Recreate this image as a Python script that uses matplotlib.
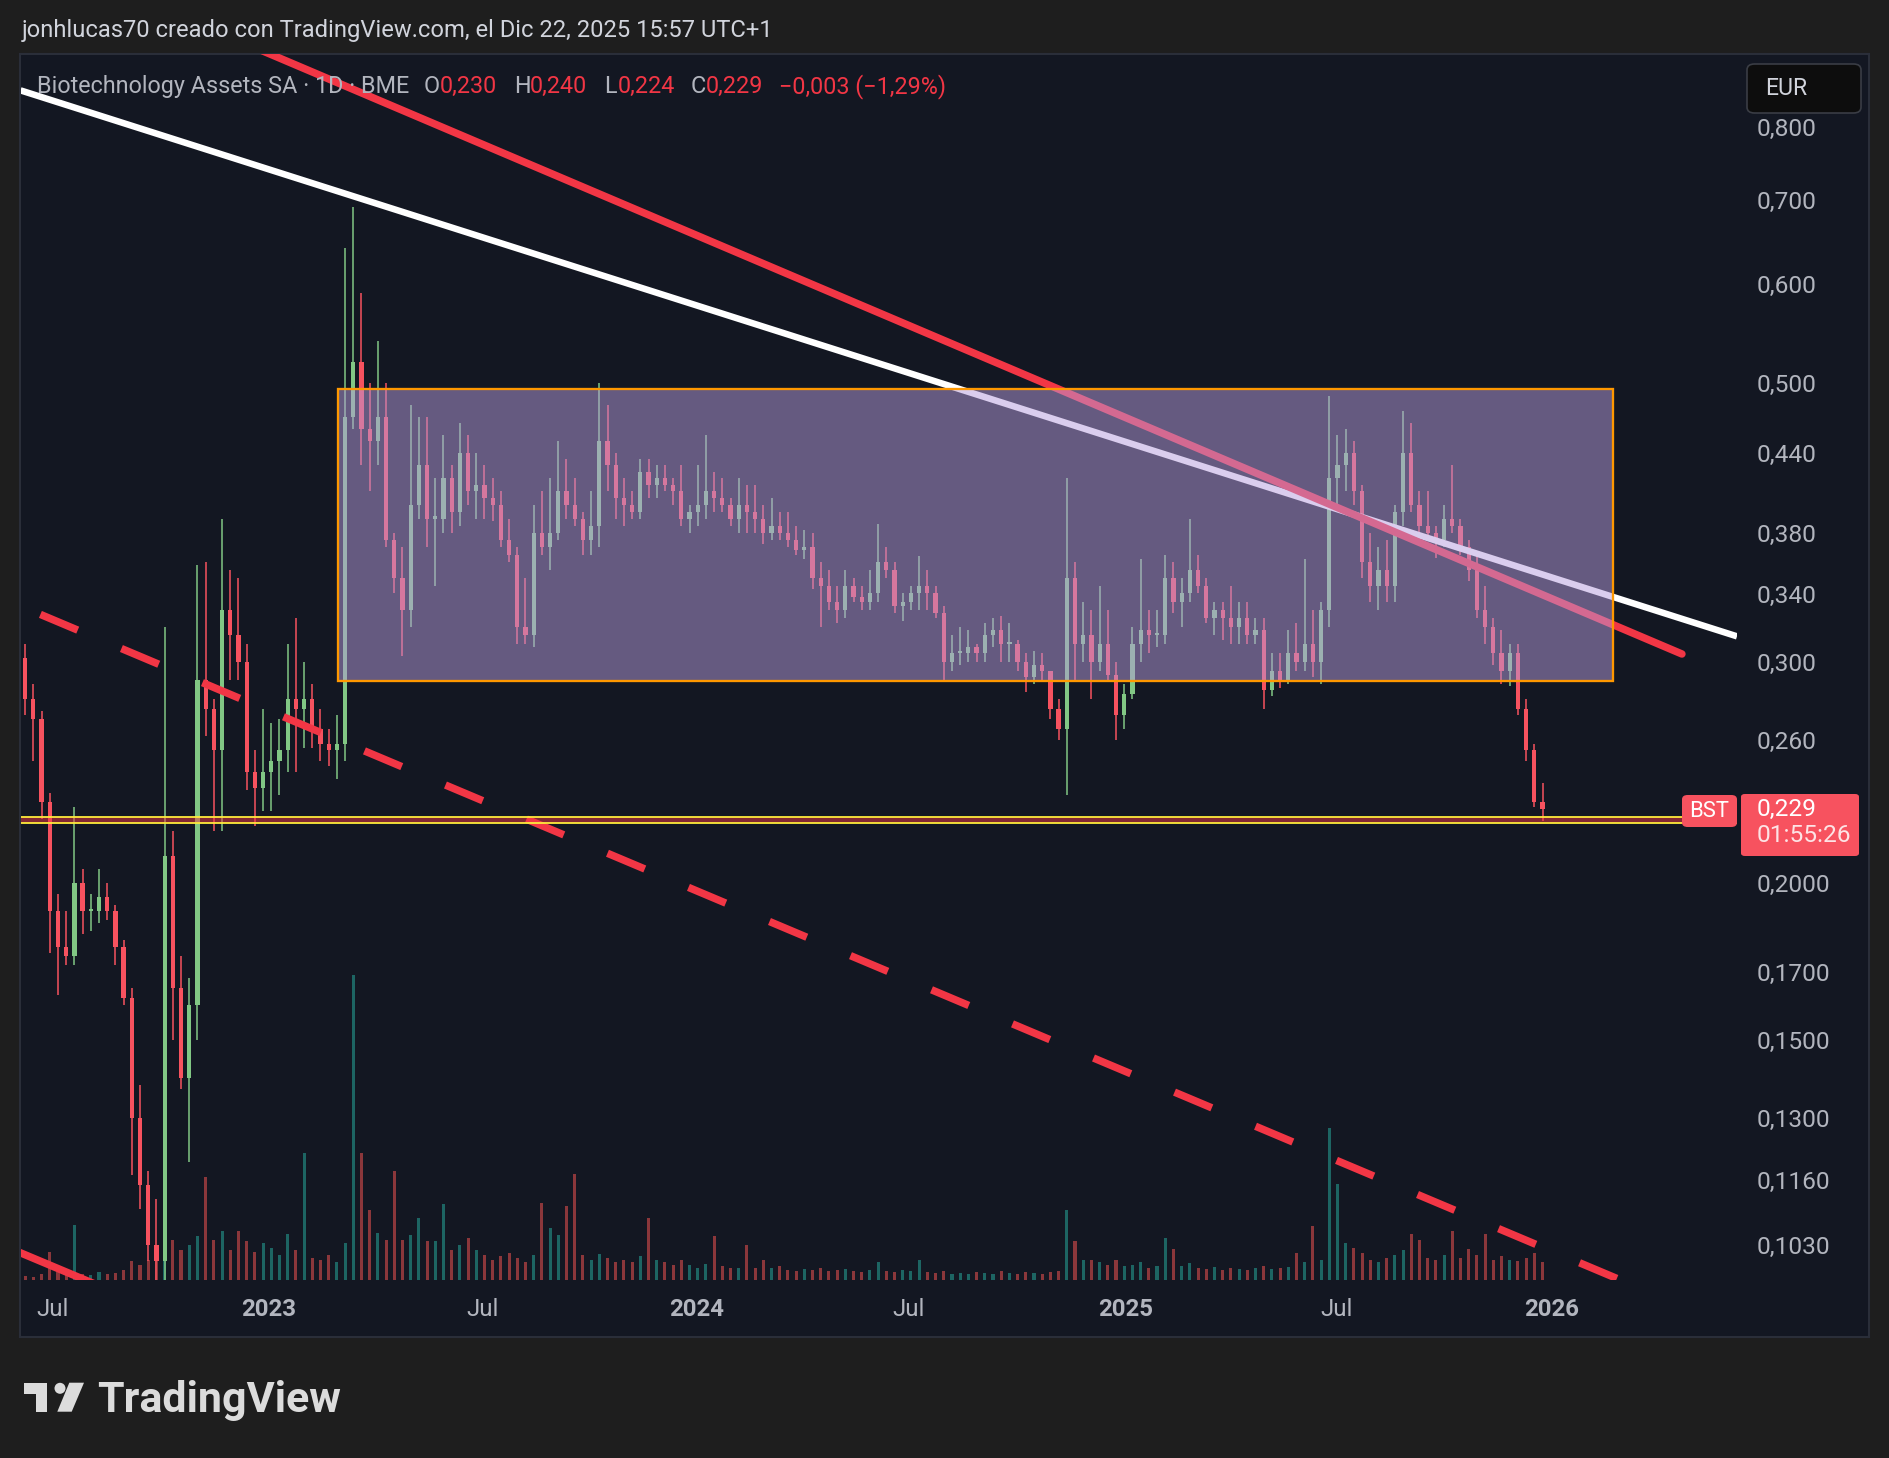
import matplotlib
matplotlib.use("Agg")
import matplotlib.pyplot as plt
import matplotlib.dates as mdates
from matplotlib.patches import Rectangle, FancyBboxPatch, Polygon, Ellipse
from matplotlib.ticker import FixedLocator, FixedFormatter, NullLocator
import numpy as np
import pandas as pd

plt.rcParams['font.family'] = ['Roboto', 'DejaVu Sans']

W, H = 1890, 1458

# ---------------- data (weekly candles) ----------------
first_week = '2022-06-06'
first_open = 0.302

close = [0.28, 0.27, 0.232, 0.19, 0.178, 0.175, 0.2, 0.19, 0.19, 0.195,
         0.19, 0.178, 0.162, 0.13, 0.115, 0.103, 0.1, 0.21, 0.165, 0.14,
         0.16, 0.29, 0.275, 0.255, 0.33, 0.315, 0.3, 0.245, 0.238, 0.245,
         0.25, 0.255, 0.28, 0.275, 0.28, 0.265, 0.258, 0.255, 0.258, 0.47,
         0.52, 0.46, 0.45, 0.47, 0.375, 0.35, 0.33, 0.4, 0.43, 0.39,
         0.39, 0.42, 0.395, 0.44, 0.41, 0.415, 0.405, 0.4, 0.375, 0.365,
         0.32, 0.315, 0.38, 0.37, 0.38, 0.41, 0.4, 0.39, 0.375, 0.385,
         0.45, 0.43, 0.405, 0.4, 0.395, 0.425, 0.415, 0.42, 0.415, 0.41,
         0.39, 0.395, 0.4, 0.41, 0.405, 0.4, 0.39, 0.4, 0.395, 0.39,
         0.38, 0.385, 0.38, 0.375, 0.368, 0.37, 0.35, 0.345, 0.335, 0.33,
         0.345, 0.338, 0.335, 0.34, 0.36, 0.355, 0.332, 0.335, 0.34, 0.345,
         0.34, 0.328, 0.3, 0.305, 0.305, 0.308, 0.305, 0.315, 0.318, 0.31,
         0.31, 0.3, 0.292, 0.298, 0.295, 0.275, 0.265, 0.35, 0.31, 0.315,
         0.3, 0.31, 0.293, 0.272, 0.283, 0.31, 0.318, 0.315, 0.315, 0.35,
         0.335, 0.34, 0.355, 0.345, 0.325, 0.33, 0.325, 0.32, 0.325, 0.315,
         0.318, 0.285, 0.295, 0.29, 0.305, 0.3, 0.31, 0.3, 0.33, 0.42,
         0.43, 0.44, 0.41, 0.36, 0.345, 0.355, 0.345, 0.395, 0.44, 0.4,
         0.385, 0.38, 0.375, 0.39, 0.385, 0.37, 0.355, 0.33, 0.32, 0.305,
         0.295, 0.305, 0.275, 0.255, 0.232, 0.229]

high = [0.31, 0.288, 0.274, 0.236, 0.196, 0.19, 0.23, 0.205, 0.196, 0.205,
        0.2, 0.192, 0.18, 0.165, 0.138, 0.118, 0.112, 0.32, 0.22, 0.175,
        0.168, 0.358, 0.36, 0.28, 0.39, 0.355, 0.35, 0.31, 0.255, 0.275,
        0.268, 0.27, 0.31, 0.325, 0.3, 0.288, 0.275, 0.265, 0.272, 0.64,
        0.69, 0.59, 0.5, 0.54, 0.5, 0.38, 0.37, 0.48, 0.47, 0.47,
        0.42, 0.455, 0.43, 0.465, 0.455, 0.44, 0.43, 0.42, 0.41, 0.39,
        0.37, 0.35, 0.4, 0.41, 0.42, 0.45, 0.435, 0.42, 0.395, 0.41,
        0.5, 0.48, 0.44, 0.42, 0.41, 0.435, 0.435, 0.43, 0.43, 0.42,
        0.43, 0.4, 0.43, 0.455, 0.425, 0.42, 0.405, 0.42, 0.415, 0.415,
        0.4, 0.405, 0.395, 0.395, 0.385, 0.382, 0.38, 0.36, 0.355, 0.345,
        0.355, 0.35, 0.345, 0.355, 0.386, 0.37, 0.36, 0.34, 0.345, 0.364,
        0.355, 0.345, 0.332, 0.315, 0.32, 0.318, 0.31, 0.322, 0.325, 0.326,
        0.322, 0.312, 0.305, 0.306, 0.305, 0.295, 0.28, 0.42, 0.36, 0.335,
        0.33, 0.345, 0.33, 0.3, 0.288, 0.32, 0.362, 0.33, 0.33, 0.365,
        0.36, 0.35, 0.39, 0.365, 0.35, 0.335, 0.335, 0.345, 0.335, 0.335,
        0.325, 0.325, 0.305, 0.305, 0.318, 0.322, 0.362, 0.33, 0.335, 0.488,
        0.455, 0.46, 0.45, 0.415, 0.38, 0.37, 0.375, 0.4, 0.475, 0.465,
        0.41, 0.41, 0.385, 0.4, 0.43, 0.39, 0.375, 0.365, 0.345, 0.325,
        0.318, 0.31, 0.31, 0.28, 0.258, 0.24]

low = [0.272, 0.25, 0.225, 0.176, 0.163, 0.172, 0.172, 0.182, 0.183, 0.186,
       0.187, 0.172, 0.16, 0.117, 0.11, 0.1, 0.094, 0.088, 0.15, 0.137,
       0.12, 0.15, 0.262, 0.22, 0.22, 0.29, 0.29, 0.237, 0.222, 0.228,
       0.228, 0.235, 0.245, 0.245, 0.256, 0.256, 0.25, 0.248, 0.242, 0.25,
       0.46, 0.43, 0.41, 0.43, 0.37, 0.34, 0.303, 0.32, 0.39, 0.37,
       0.345, 0.38, 0.38, 0.385, 0.4, 0.39, 0.39, 0.388, 0.37, 0.36,
       0.31, 0.31, 0.308, 0.365, 0.355, 0.375, 0.39, 0.385, 0.365, 0.365,
       0.37, 0.41, 0.39, 0.385, 0.39, 0.39, 0.405, 0.405, 0.41, 0.4,
       0.385, 0.38, 0.385, 0.39, 0.395, 0.395, 0.385, 0.38, 0.38, 0.38,
       0.372, 0.375, 0.375, 0.37, 0.365, 0.362, 0.343, 0.32, 0.33, 0.322,
       0.325, 0.335, 0.33, 0.33, 0.335, 0.35, 0.328, 0.323, 0.33, 0.33,
       0.33, 0.325, 0.289, 0.295, 0.298, 0.3, 0.3, 0.3, 0.308, 0.3,
       0.3, 0.295, 0.284, 0.288, 0.29, 0.27, 0.26, 0.235, 0.29, 0.3,
       0.28, 0.295, 0.29, 0.26, 0.265, 0.28, 0.3, 0.305, 0.308, 0.31,
       0.328, 0.32, 0.335, 0.34, 0.322, 0.315, 0.312, 0.31, 0.31, 0.31,
       0.31, 0.275, 0.282, 0.286, 0.288, 0.295, 0.295, 0.292, 0.288, 0.32,
       0.4, 0.41, 0.4, 0.35, 0.335, 0.33, 0.335, 0.335, 0.385, 0.395,
       0.375, 0.375, 0.363, 0.37, 0.38, 0.365, 0.348, 0.325, 0.31, 0.298,
       0.288, 0.287, 0.272, 0.25, 0.23, 0.224]

# relative volume (peak daily bar height per week)
volume_rel = [4, 3, 6, 28, 8, 5, 55, 6, 5, 8,
              6, 7, 10, 19, 15, 20, 25, 45, 40, 30,
              35, 44, 103, 40, 49, 30, 49, 39, 28, 37,
              32, 25, 46, 30, 127, 22, 20, 25, 18, 37,
              305, 127, 70, 47, 40, 109, 40, 45, 62, 39,
              39, 76, 30, 35, 42, 30, 25, 20, 24, 27,
              22, 18, 25, 77, 52, 45, 74, 106, 25, 20,
              26, 22, 18, 20, 18, 24, 62, 20, 18, 15,
              20, 15, 12, 16, 44, 14, 12, 12, 35, 12,
              20, 12, 14, 10, 9, 11, 10, 12, 9, 10,
              11, 9, 8, 10, 18, 9, 8, 10, 9, 20,
              8, 7, 9, 6, 7, 6, 8, 7, 6, 9,
              7, 6, 8, 7, 6, 8, 9, 70, 39, 20,
              20, 18, 15, 20, 14, 15, 18, 12, 14, 42,
              31, 14, 17, 12, 11, 13, 10, 12, 11, 10,
              12, 14, 11, 12, 13, 27, 18, 54, 20, 152,
              96, 37, 32, 27, 20, 18, 22, 25, 30, 46,
              40, 22, 20, 25, 49, 22, 31, 25, 46, 20,
              24, 20, 19, 22, 27, 18]

y_ticks = [0.8, 0.7, 0.6, 0.5, 0.44, 0.38, 0.34, 0.30, 0.26, 0.20, 0.17, 0.15, 0.13, 0.116, 0.103]
y_tick_labels = ['0,800', '0,700', '0,600', '0,500', '0,440', '0,380', '0,340', '0,300', '0,260',
                 '0,2000', '0,1700', '0,1500', '0,1300', '0,1160', '0,1030']
x_tick_dates = ['2022-07-01', '2023-01-02', '2023-07-03', '2024-01-02',
                '2024-07-01', '2025-01-02', '2025-07-01', '2026-01-01']
x_tick_labels = ['Jul', '2023', 'Jul', '2024', 'Jul', '2025', 'Jul', '2026']

# drawings (date, price)
white_line = [('2022-06-04', 0.855), ('2026-06-08', 0.3143)]
red_line = [('2022-09-23', 1.003), ('2026-04-22', 0.3043)]
red_dashed = [('2022-06-21', 0.3272), ('2026-05-08', 0.0908)]
red_corner = [('2022-05-18', 0.1031), ('2022-08-11', 0.0955)]
range_box = [('2023-03-02', 0.4946), ('2026-02-22', 0.2898)]
support_band = (0.2234, 0.2258)

x_range = ('2022-06-04', '2026-06-08')
y_range = (0.0966, 0.9136)

# ---------------- style ----------------
BG_OUT = '#1e1e1e'
BG = '#131722'
BORDER = '#2a2e39'
TXT = '#b2b5be'
UP = '#81c784'
DOWN = '#f7525f'
VOL_UP = '#26a69a'
VOL_DOWN = '#ef5350'
TV_RED = '#f23645'
LABEL_RED = '#f7525f'


def fx(x):
    return x / W


def fy(y):
    return 1 - y / H


def pt(px):
    return px * 0.72


def d(s):
    return mdates.date2num(pd.Timestamp(s))


fig = plt.figure(figsize=(W / 100, H / 100), dpi=100)
fig.patch.set_facecolor(BG_OUT)

# chart panel
fig.patches.append(Rectangle((fx(20), fy(1337)), fx(1869) - fx(20), fy(53.5) - fy(1337),
                             transform=fig.transFigure, facecolor=BG, edgecolor=BORDER,
                             lw=1.5, zorder=-5))

L, R, T, B = 20.5, 1737, 54.2, 1280
rect = [fx(L), fy(B), fx(R) - fx(L), fy(T) - fy(B)]
axv = fig.add_axes(rect)
ax = fig.add_axes(rect)
for a in (axv, ax):
    a.set_facecolor('none')
    for s in a.spines.values():
        s.set_visible(False)

xmin, xmax = d(x_range[0]), d(x_range[1])

# candles
o = np.array([first_open] + close[:-1])
c = np.array(close)
hi = np.array(high)
lo = np.array(low)
weeks = pd.date_range(first_week, periods=len(close), freq='7D') + pd.Timedelta(days=2)
xs = mdates.date2num(weeks)
up = c >= o
cols = np.where(up, UP, DOWN)

# volume
axv.set_xlim(xmin, xmax)
axv.set_ylim(0, B - T)
vcols = np.where(up, VOL_UP, VOL_DOWN)
axv.bar(xs, volume_rel, width=2.6, color=vcols, alpha=0.55, linewidth=0)
axv.axis('off')

ax.set_yscale('log')
ax.set_xlim(xmin, xmax)
ax.set_ylim(*y_range)

ax.vlines(xs, lo, hi, colors=cols, lw=1.1, zorder=3)
body_bottom = np.minimum(o, c)
body_h = np.maximum(np.abs(c - o), 0.004 * body_bottom)
ax.bar(xs, body_h, bottom=body_bottom, width=3.6, color=cols, linewidth=0, zorder=3)

# trend lines
def line(pts, **kw):
    ax.plot([d(pts[0][0]), d(pts[1][0])], [pts[0][1], pts[1][1]], **kw)

line(white_line, color='white', lw=pt(6.5), solid_capstyle='butt', zorder=4)
line(red_line, color=TV_RED, lw=pt(7.5), solid_capstyle='round', zorder=4)
line(red_dashed, color=TV_RED, lw=pt(7.5), linestyle=(0, (5.4, 6.32)),
     dash_capstyle='butt', zorder=4)
line(red_corner, color=TV_RED, lw=pt(7.5), solid_capstyle='butt', zorder=4)

# range rectangle (semi-transparent overlay)
x0, x1 = d(range_box[0][0]), d(range_box[1][0])
ytop, ybot = range_box[0][1], range_box[1][1]
ax.add_patch(Rectangle((x0, ybot), x1 - x0, ytop - ybot, facecolor='#b79dde',
                       alpha=0.5, edgecolor='none', zorder=5))
ax.add_patch(Rectangle((x0, ybot), x1 - x0, ytop - ybot, facecolor='none',
                       edgecolor='#ff9800', lw=pt(2.3), zorder=5.5))

# support band
ax.axhspan(support_band[0], support_band[1], facecolor=TV_RED, alpha=0.5, lw=0, zorder=6)
ax.axhline(support_band[1], color='#ffeb3b', lw=pt(1.8), zorder=6.5)
ax.axhline(support_band[0], color='#ffeb3b', lw=pt(1.8), zorder=6.5)

# axes ticks
ax.yaxis.set_major_locator(FixedLocator(y_ticks))
ax.yaxis.set_major_formatter(FixedFormatter(y_tick_labels))
ax.yaxis.set_minor_locator(NullLocator())
ax.yaxis.tick_right()
ax.tick_params(axis='y', length=0, pad=pt(20), labelsize=pt(24.5), labelcolor=TXT)
ax.set_xticks([d(s) for s in x_tick_dates])
ax.set_xticklabels(x_tick_labels)
ax.tick_params(axis='x', length=0, pad=pt(18), labelsize=pt(24), labelcolor=TXT)
for lab in ax.get_xticklabels():
    if lab.get_text().isdigit():
        lab.set_fontweight('bold')

# ---------------- figure-level texts and labels ----------------
def ftext(x, y, s, px, **kw):
    return fig.text(fx(x), fy(y), s, fontsize=pt(px), **kw)

ftext(21.5, 37.5, 'jonhlucas70 creado con TradingView.com, el Dic 22, 2025 15:57 UTC+1',
      23.8, color='#d1d4dc', va='baseline', ha='left')

legend_parts = [
    (37, 'Biotechnology Assets SA · 1D · BME', TXT),
    (424, 'O', TXT), (440, '0,230', TV_RED),
    (514, 'H', TXT), (530, '0,240', TV_RED),
    (604, 'L', TXT), (618, '0,224', TV_RED),
    (691, 'C', TXT), (706, '0,229', TV_RED),
    (779, '\u22120,003 (\u22121,29%)', TV_RED),
]
for xx, s, col in legend_parts:
    ftext(xx, 93, s, 23.4, color=col, va='baseline', ha='left')

# EUR box
fig.patches.append(FancyBboxPatch((fx(1747), fy(113)), fx(1861) - fx(1747), fy(64) - fy(113),
                                  boxstyle='round,pad=0,rounding_size=0.004',
                                  transform=fig.transFigure, facecolor='#0d0d0d',
                                  edgecolor='#3a3d45', lw=1.2, zorder=10))
ftext(1786, 88.5, 'EUR', 23, color='#d1d4dc', ha='center', va='center', zorder=11)

# BST label
fig.patches.append(FancyBboxPatch((fx(1682), fy(827)), fx(1737) - fx(1682), fy(795) - fy(827),
                                  boxstyle='round,pad=0,rounding_size=0.003',
                                  transform=fig.transFigure, facecolor=LABEL_RED,
                                  edgecolor='none', zorder=10))
ftext(1709.5, 811.5, 'BST', 22, color='white', ha='center', va='center', zorder=11)

# last price label
fig.patches.append(FancyBboxPatch((fx(1741), fy(856)), fx(1859) - fx(1741), fy(794) - fy(856),
                                  boxstyle='round,pad=0,rounding_size=0.002',
                                  transform=fig.transFigure, facecolor=LABEL_RED,
                                  edgecolor='none', zorder=10))
ftext(1757, 809, '0,229', 24.5, color='white', ha='left', va='center', zorder=11)
ftext(1757, 836, '01:55:26', 24.5, color='#fde3e5', ha='left', va='center', zorder=11)

# TradingView logo
LOGO = '#dcdcdc'
fig.patches.append(Rectangle((fx(24), fy(1394)), fx(46.7) - fx(24), fy(1382.7) - fy(1394),
                             transform=fig.transFigure, facecolor=LOGO, lw=0, zorder=10))
fig.patches.append(Rectangle((fx(36), fy(1411.7)), fx(46.7) - fx(36), fy(1382.7) - fy(1411.7),
                             transform=fig.transFigure, facecolor=LOGO, lw=0, zorder=10))
fig.patches.append(Ellipse((fx(60), fy(1388.3)), 11 / W, 11 / H, transform=fig.transFigure,
                           facecolor=LOGO, lw=0, zorder=10))
fig.patches.append(Polygon([(fx(69.3), fy(1382.7)), (fx(84), fy(1382.7)),
                            (fx(71.7), fy(1411.7)), (fx(57.3), fy(1411.7))],
                           closed=True, transform=fig.transFigure, facecolor=LOGO,
                           lw=0, zorder=10))
ftext(97, 1411.7, 'TradingView', 43, color=LOGO, fontweight='bold', ha='left',
      va='baseline')

fig.savefig('out.png', dpi=100, facecolor=BG_OUT)
